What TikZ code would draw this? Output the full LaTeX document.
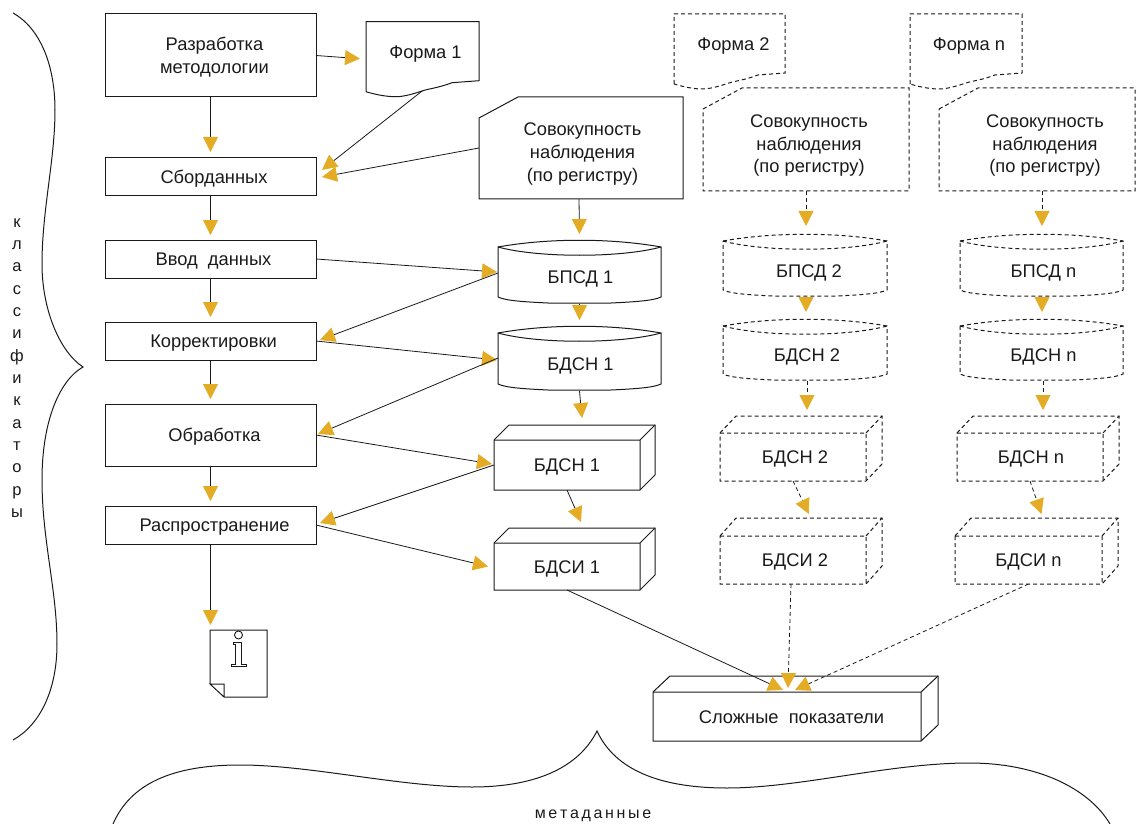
\documentclass[tikz,border=0pt]{standalone}
\usepackage{fontspec}
\setmainfont{Liberation Sans}
\usetikzlibrary{arrows.meta}
\definecolor{gold}{HTML}{E3AC24}
\definecolor{ink}{HTML}{1A1A1A}
\tikzset{
  x=1pt,y=-1pt,
  dsh/.style={dash pattern=on 4pt off 3pt},
  outl/.style={draw=ink,line width=1pt,line join=miter},
  txt/.style={inner sep=0pt,outer sep=0pt,text=ink,font=\fontsize{18.3}{22.6}\selectfont},
  conn/.style={draw=ink,line width=0.8pt,-{Triangle[length=15pt,width=15pt,color=gold,fill=gold]}},
  dconn/.style={conn,dash pattern=on 4pt off 3pt},
  curve/.style={draw=ink,line width=1pt}
}
\def\tdx{0pt}
% body node: #2 name, corners (#3,#4)-(#5,#6), text #7
\newcommand{\Bx}[7][]{\node[txt,#1,minimum width={(#5)-(#3)},minimum height={(#6)-(#4)}] (#2) at ({((#3)+(#5))/2},{((#4)+(#6))/2}) {\hspace*{\tdx}\raisebox{0pt}[\dimexpr\height+4pt\relax][\depth]{\begin{tabular}{@{}c@{}}#7\end{tabular}}};}
\newcommand{\RectB}[6]{\Bx[draw=ink,line width=1pt]{#1}{#2}{#3}{#4}{#5}{#6}}
\newcommand{\Cyl}[7][]{%
  \draw[outl,#1] (#3,{#4+7}) .. controls ({#3+50},{#4-2}) and ({#5-50},{#4-2}) .. (#5,{#4+7})
    -- (#5,{#6-7}) .. controls ({#5-8},{#6-3}) and ({#5-30},{#6-2}) .. ({#5-50},{#6-1})
    -- ({#3+50},{#6-1}) .. controls ({#3+30},{#6-2}) and ({#3+8},{#6-3}) .. (#3,{#6-7}) -- cycle;
  \draw[outl,#1] (#3,{#4+7}) .. controls ({#3+40},{#4+18}) and ({#5-40},{#4+18}) .. (#5,{#4+7});
  \Bx{#2}{#3}{#4+10}{#5}{#6}{#7}}
\newcommand{\Cub}[9][]{% front (#3,#4)-(#5,#6), depth #7 (x), #8 (y)
  \draw[outl,#1] (#3,#4) -- ({#3+#7},{#4-#8}) -- ({#5+#7},{#4-#8}) -- ({#5+#7},{#6-#8}) -- (#5,#6) -- (#3,#6) -- cycle;
  \draw[outl,#1] (#3,#4) -- (#5,#4) -- (#5,#6) (#5,#4) -- ({#5+#7},{#4-#8});
  \Bx{#2}{#3}{#4}{#5}{#6}{#9}}
\newcommand{\Frm}[6][]{% top-left (#3,#4), right #5
  \draw[outl,#1] (#3,{#4+70}) -- (#3,#4) -- (#5,#4) -- (#5,{#4+59}) -- ({#5-27},{#4+61})
    .. controls ({#5-40},{#4+66}) and ({#5-50},{#4+67}) .. ({#5-56},{#4+69})
    .. controls ({#5-65},{#4+72}) and ({#5-75},{#4+75}) .. ({#5-83},{#4+75})
    .. controls ({#3+20},{#4+75}) and ({#3+10},{#4+73}) .. (#3,{#4+70});
  \Bx{#2}{#3}{#4}{#5}{#4+60}{#6}}
\newcommand{\Sov}[6][]{% (#3,#4) top-left of bbox, right #5, bottom #6
  \draw[outl,#1] (#3,{#4+21}) -- ({#3+39},#4) -- (#5,#4) -- (#5,#6) -- (#3,#6) -- cycle;
  \Bx{#2}{#3}{#4+8}{#5}{#6}{Совокупность\\наблюдения\\(по регистру)}}
\begin{document}
\begin{tikzpicture}
\useasboundingbox (0,0) rectangle (1136,824);
% left column
\def\tdx{8pt}
\RectB{raz}{105}{14}{316}{97}{Разработка\\методологии}
\def\tdx{7pt}
\RectB{sbor}{105}{158}{316}{196}{Сборданных}
\def\tdx{6pt}
\RectB{vvod}{105}{240}{316}{278}{Ввод\ \ данных}
\RectB{korr}{105}{322}{316}{360}{Корректировки}
\def\tdx{8pt}
\RectB{obr}{105}{404}{316}{466}{Обработка}
\RectB{ras}{105}{506}{316}{544}{Распространение}
% forms
\def\tdx{6pt}
\Frm{formA}{366}{21.7}{479}{Форма 1}
\def\tdx{8pt}
\Frm[dsh]{formB}{674}{14}{785}{Форма 2}
\def\tdx{6pt}
\Frm[dsh]{formN}{910}{14}{1022}{Форма n}
\def\tdx{3pt}
\Sov{sovA}{479}{97}{683}{199}
\def\tdx{6pt}
\Sov[dsh]{sovB}{703}{88}{909}{191}
\def\tdx{16pt}
\Sov[dsh]{sovN}{939}{88}{1135}{191}
% cylinders
\def\tdx{2pt}
\Cyl{bpsdA}{498}{240}{661}{304}{БПСД 1}
\Cyl{bdsnA}{498}{326}{661}{391}{БДСН 1}
\def\tdx{8pt}
\Cyl[dsh]{bpsdB}{723}{234}{887}{297}{БПСД 2}
\def\tdx{4pt}
\Cyl[dsh]{bdsnB}{723}{319}{887}{381}{БДСН 2}
\Cyl[dsh]{bpsdN}{960}{234}{1123}{297}{БПСД n}
\Cyl[dsh]{bdsnN}{960}{319}{1123}{381}{БДСН n}
% cuboids
\def\tdx{0pt}
\Cub{cubA}{494}{440}{640}{490}{15}{15}{БДСН 1}
\Cub{cubI}{494}{543}{640}{590}{15}{15}{БДСИ 1}
\def\tdx{4pt}
\Cub[dsh]{cubB}{720}{433}{866}{481}{16}{17}{БДСН 2}
\Cub[dsh]{cubJ}{720}{536}{866}{584}{16}{18}{БДСИ 2}
\def\tdx{2pt}
\Cub[dsh]{cubN}{957}{433}{1103}{481}{16}{17}{БДСН n}
\def\tdx{0pt}
\Cub[dsh]{cubK}{955}{536}{1102}{584}{16}{18}{БДСИ n}
\def\tdx{9pt}
\Cub{slo}{653}{692}{921}{741}{17}{16}{Сложные\ \ показатели}
\def\tdx{0pt}
% info document
\Bx{doc}{210}{630}{267}{697}{}
\draw[outl] (210,684) -- (210,630) -- (267,630) -- (267,697) -- (224,697) -- (210,684) -- (224,684) -- (224,697);
\draw[outl,line width=0.9pt] (238.5,635) circle[radius=4];
\draw[outl,line width=0.9pt] (233,642) -- (241,642) -- (241,664) -- (246,664) -- (246,666) -- (231,666) -- (231,664) -- (235.5,664) -- (235.5,644) -- (233,644) -- cycle;
% solid connectors
\draw[conn] (raz.east) -- ([xshift=-6,yshift=-7]formA.west);
\draw[conn,shorten >=6pt] (raz.south) -- (sbor.north);
\draw[conn] ([yshift=-9]formA.south) -- ([xshift=6,yshift=7]sbor.east);
\draw[conn] ([yshift=4]sovA.west) -- ([xshift=6]sbor.east);
\draw[conn] ([xshift=-2]sovA.south) -- ([yshift=16]bpsdA.north);
\draw[conn,shorten >=5pt] (sbor.south) -- (vvod.north);
\draw[conn] (vvod.east) -- ([xshift=-1,yshift=5]bpsdA.west);
\draw[conn,shorten >=5pt] (vvod.south) -- (korr.north);
\draw[conn] ([yshift=4]bpsdA.west) -- ([xshift=4,yshift=1]korr.east);
\draw[conn] (korr.east) -- ([xshift=-1,yshift=3.5]bdsnA.west);
\draw[conn] (bpsdA.south) -- ([yshift=16]bdsnA.north);
\draw[conn,shorten >=5pt] (korr.south) -- (obr.north);
\draw[conn] ([yshift=5.5]bdsnA.west) -- ([xshift=2,yshift=1]obr.east);
\draw[conn] (bdsnA.south) -- ([xshift=15,yshift=22]cubA.north);
\draw[conn] (obr.east) -- ([xshift=-2,yshift=1]cubA.west);
\draw[conn,shorten >=5pt] (obr.south) -- (ras.north);
\draw[conn] (cubA.west) -- ([xshift=4,yshift=2]ras.east);
\draw[conn] (ras.east) -- ([xshift=-6]cubI.west);
\draw[conn] (cubA.south) -- ([xshift=14,yshift=21]cubI.north);
\draw[conn] (ras.south) -- ([xshift=-28,yshift=5]doc.north);
\draw[conn] (cubI.south) -- ([xshift=-4,yshift=2]slo.north);
% dashed connectors
\draw[dconn] (sovB.south) -- ([xshift=1,yshift=18]bpsdB.north);
\draw[dconn] ([xshift=1]bpsdB.south) -- ([xshift=1,yshift=17]bdsnB.north);
\draw[dconn] ([xshift=2]bdsnB.south) -- ([xshift=14,yshift=23]cubB.north);
\draw[dconn] (cubB.south) -- ([xshift=16,yshift=22]cubJ.north);
\draw[dconn] ([xshift=-2]cubJ.south) -- ([xshift=1,yshift=4]slo.north);
\draw[dconn] ([xshift=5]sovN.south) -- ([xshift=0.5,yshift=18]bpsdN.north);
\draw[dconn] ([xshift=0.5]bpsdN.south) -- ([xshift=0.5,yshift=17]bdsnN.north);
\draw[dconn] ([xshift=1.5]bdsnN.south) -- ([xshift=13,yshift=23]cubN.north);
\draw[dconn] (cubN.south) -- ([xshift=13,yshift=22]cubK.north);
\draw[dconn] (cubK.south) -- ([xshift=8,yshift=2]slo.north);
% braces
\draw[curve] (13,13) .. controls (40,28) and (55,65) .. (55,110)
  .. controls (55,160) and (42,210) .. (42,264)
  .. controls (42,310) and (60,352) .. (83,367)
  .. controls (60,380) and (42,420) .. (42,480)
  .. controls (42,540) and (57,590) .. (57,644)
  .. controls (57,690) and (40,725) .. (13,740);
\draw[curve] (113,824) .. controls (130,785) and (170,765) .. (240,765)
  .. controls (310,765) and (400,787) .. (472,787)
  .. controls (540,787) and (580,765) .. (597,731)
  .. controls (615,770) and (660,788) .. (727,788)
  .. controls (800,788) and (890,763) .. (969,763)
  .. controls (1040,763) and (1090,790) .. (1110,824);
% texts
\node[txt,align=center,font=\fontsize{16.5}{22.35}\selectfont] (side) at (17,368) {к\\л\\а\\с\\с\\и\\ф\\и\\к\\а\\т\\о\\р\\ы};
\node[txt,font=\fontsize{16}{20}\selectfont] (meta) at (593,816) {м\,е\,т\,а\,д\,а\,н\,н\,ы\,е};
\end{tikzpicture}
\end{document}
